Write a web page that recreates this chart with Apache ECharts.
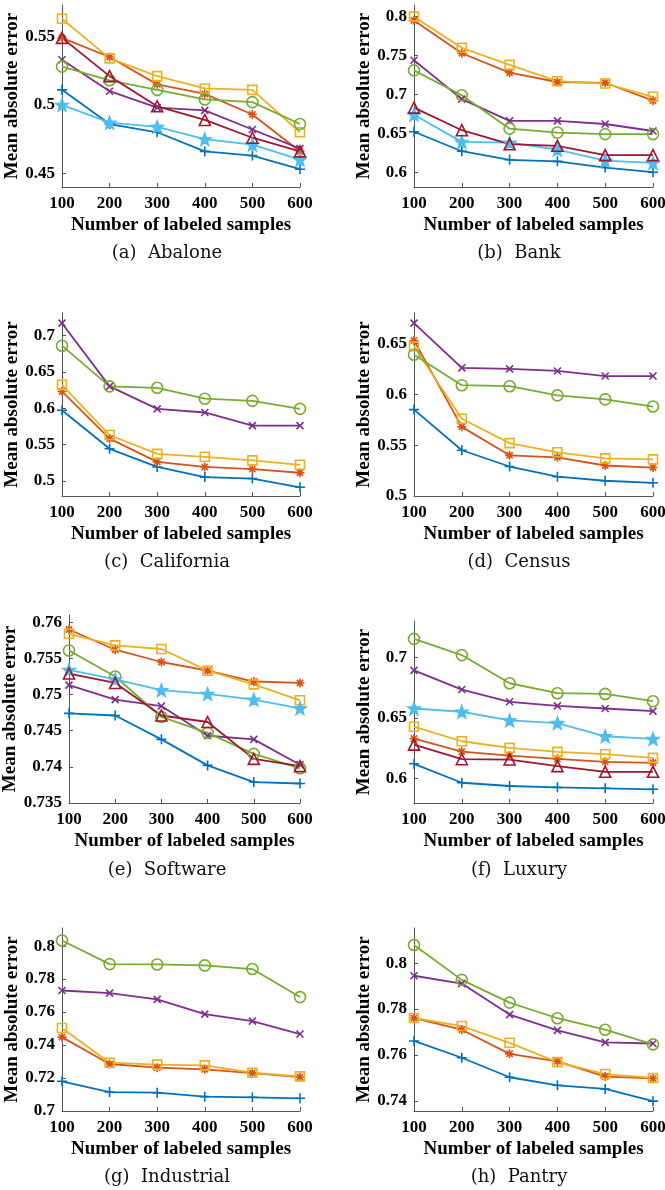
<!DOCTYPE html>
<html>
<head>
<meta charset="utf-8">
<title>Mean absolute error vs. number of labeled samples</title>
<script src="https://cdn.jsdelivr.net/npm/echarts@6/dist/echarts.min.js"></script>
<style>
  html, body { margin: 0; padding: 0; background: #fff; }
  #chart { width: 665px; height: 1190px; }
</style>
</head>
<body>
<div id="chart"></div>
<script>
// x values, same for every panel
const samples = [100, 200, 300, 400, 500, 600];

// rows in plot order: + blue, * orange, square yellow, x purple, o green, star light blue, triangle dark red
// null = method not drawn in that panel
const abalone = [
  [0.511, 0.486, 0.480, 0.466, 0.463, 0.453],
  [0.549, 0.535, 0.515, 0.508, 0.493, 0.466],
  [0.563, 0.534, 0.521, 0.512, 0.511, 0.480],
  [0.533, 0.510, 0.498, 0.496, 0.482, 0.468],
  [0.528, 0.518, 0.511, 0.504, 0.502, 0.486],
  [0.500, 0.487, 0.484, 0.475, 0.471, 0.460],
  [0.549, 0.521, 0.499, 0.489, 0.476, 0.466]
];
const bank = [
  [0.652, 0.627, 0.616, 0.614, 0.606, 0.600],
  [0.795, 0.753, 0.728, 0.716, 0.715, 0.692],
  [0.800, 0.760, 0.738, 0.717, 0.714, 0.697],
  [0.744, 0.694, 0.666, 0.666, 0.662, 0.653],
  [0.731, 0.699, 0.656, 0.651, 0.649, 0.649],
  [0.674, 0.639, 0.638, 0.629, 0.615, 0.612],
  [0.683, 0.654, 0.636, 0.634, 0.622, 0.622]
];
const california = [
  [0.597, 0.544, 0.519, 0.505, 0.503, 0.491],
  [0.623, 0.558, 0.526, 0.519, 0.516, 0.511],
  [0.632, 0.563, 0.537, 0.533, 0.528, 0.522],
  [0.717, 0.630, 0.599, 0.594, 0.576, 0.576],
  [0.686, 0.630, 0.628, 0.613, 0.610, 0.599],
  null,
  null
];
const census = [
  [0.585, 0.545, 0.529, 0.519, 0.515, 0.513],
  [0.653, 0.568, 0.540, 0.538, 0.530, 0.528],
  [0.647, 0.576, 0.552, 0.543, 0.537, 0.536],
  [0.670, 0.626, 0.625, 0.623, 0.618, 0.618],
  [0.639, 0.609, 0.608, 0.599, 0.595, 0.588],
  null,
  null
];
const software = [
  [0.7474, 0.7471, 0.7438, 0.7402, 0.7379, 0.7377],
  [0.7590, 0.7562, 0.7545, 0.7533, 0.7518, 0.7516],
  [0.7584, 0.7568, 0.7563, 0.7533, 0.7514, 0.7492],
  [0.7513, 0.7493, 0.7484, 0.7443, 0.7438, 0.7403],
  [0.7561, 0.7525, 0.7469, 0.7447, 0.7418, 0.7398],
  [0.7534, 0.7521, 0.7506, 0.7501, 0.7493, 0.7481],
  [0.7529, 0.7516, 0.7471, 0.7462, 0.7411, 0.7401]
];
const luxury = [
  [0.6123, 0.5967, 0.5940, 0.5929, 0.5921, 0.5913],
  [0.6331, 0.6224, 0.6191, 0.6164, 0.6139, 0.6131],
  [0.6429, 0.6309, 0.6254, 0.6221, 0.6202, 0.6172],
  [0.6893, 0.6735, 0.6634, 0.6601, 0.6579, 0.6557],
  [0.7153, 0.7019, 0.6787, 0.6705, 0.6699, 0.6639],
  [0.6579, 0.6552, 0.6481, 0.6459, 0.6350, 0.6328],
  [0.6281, 0.6161, 0.6158, 0.6104, 0.6057, 0.6057]
];
const industrial = [
  [0.7180, 0.7115, 0.7111, 0.7087, 0.7083, 0.7077],
  [0.7448, 0.7285, 0.7263, 0.7253, 0.7230, 0.7206],
  [0.7503, 0.7293, 0.7281, 0.7277, 0.7232, 0.7210],
  [0.7731, 0.7715, 0.7677, 0.7588, 0.7545, 0.7467],
  [0.8034, 0.7891, 0.7889, 0.7883, 0.7861, 0.7691],
  null,
  null
];
const pantry = [
  [0.7661, 0.7588, 0.7503, 0.7468, 0.7452, 0.7399],
  [0.7761, 0.7710, 0.7605, 0.7572, 0.7506, 0.7498],
  [0.7761, 0.7726, 0.7653, 0.7569, 0.7517, 0.7500],
  [0.7945, 0.7911, 0.7776, 0.7707, 0.7655, 0.7650],
  [0.8079, 0.7927, 0.7828, 0.7760, 0.7710, 0.7646],
  null,
  null
];

// y tick labels per panel
const abaloneTicks = [0.45, 0.5, 0.55];
const bankTicks = [0.6, 0.65, 0.7, 0.75, 0.8];
const californiaTicks = [0.5, 0.55, 0.6, 0.65, 0.7];
const censusTicks = [0.5, 0.55, 0.6, 0.65];
const softwareTicks = [0.735, 0.74, 0.745, 0.75, 0.755, 0.76];
const luxuryTicks = [0.6, 0.65, 0.7];
const industrialTicks = [0.7, 0.72, 0.74, 0.76, 0.78, 0.8];
const pantryTicks = [0.74, 0.76, 0.78, 0.8];

const captions = ['(a)  Abalone', '(b)  Bank', '(c)  California', '(d)  Census',
                  '(e)  Software', '(f)  Luxury', '(g)  Industrial', '(h)  Pantry'];

// MATLAB default line colours
const colors = ['#0072BD', '#D95319', '#EDB120', '#7E2F8E', '#77AC30', '#4DBEEE', '#A2142F'];

function starPath() {
  let d = '';
  for (let i = 0; i < 10; i++) {
    const r = i % 2 ? 2.1 : 5;
    const a = -Math.PI / 2 + i * Math.PI / 5;
    d += (i ? 'L' : 'M') + (5 + r * Math.cos(a)).toFixed(2) + ',' + (5 + r * Math.sin(a)).toFixed(2);
  }
  return 'path://' + d + 'Z';
}

const markers = [
  {symbol: 'path://M0,5L10,5M5,0L5,10', size: 10, filled: false},
  {symbol: 'path://M5,0L5,10M0,5L10,5M1.5,1.5L8.5,8.5M8.5,1.5L1.5,8.5', size: 9, filled: false},
  {symbol: 'rect', size: 9, filled: false},
  {symbol: 'path://M0,0L10,10M10,0L0,10', size: 7, filled: false},
  {symbol: 'circle', size: 11, filled: false},
  {symbol: starPath(), size: 12, filled: true},
  {symbol: 'triangle', size: 11, filled: false}
];

// panel layout (px)
const panels = [
  {data: abalone, ticks: abaloneTicks, min: 0.44, max: 0.573, left: 62, top: 5, w: 238, h: 182, cx: 167, cy: 253, gap: 37},
  {data: bank, ticks: bankTicks, min: 0.581, max: 0.815, left: 414, top: 5, w: 239, h: 182, cx: 519, cy: 253, gap: 37},
  {data: california, ticks: californiaTicks, min: 0.479, max: 0.731, left: 62, top: 313, w: 238, h: 183, cx: 167, cy: 562, gap: 37},
  {data: census, ticks: censusTicks, min: 0.5, max: 0.68, left: 414, top: 313, w: 239, h: 183, cx: 519, cy: 562, gap: 37},
  {data: software, ticks: softwareTicks, min: 0.735, max: 0.761, left: 69, top: 615, w: 231, h: 188, cx: 167, cy: 870, gap: 45},
  {data: luxury, ticks: luxuryTicks, min: 0.58, max: 0.73, left: 414, top: 621, w: 239, h: 182, cx: 519, cy: 870, gap: 37},
  {data: industrial, ticks: industrialTicks, min: 0.7, max: 0.811, left: 62, top: 928, w: 238, h: 183, cx: 167, cy: 1177, gap: 38},
  {data: pantry, ticks: pantryTicks, min: 0.7356, max: 0.8153, left: 414, top: 928, w: 239, h: 183, cx: 519, cy: 1177, gap: 38}
];

const axisFont = {fontFamily: 'Liberation Serif', fontWeight: 'bold', fontSize: 17, color: '#000'};
const nameFont = {fontFamily: 'Liberation Serif', fontWeight: 'bold', fontSize: 19, color: '#000'};
const axisLine = {show: true, lineStyle: {color: '#555', width: 1}};

let grids = [], xAxes = [], yAxes = [], series = [], graphics = [];

panels.forEach((p, i) => {
  grids.push({left: p.left, top: p.top, width: p.w, height: p.h, containLabel: false, outerBoundsMode: 'none'});
  xAxes.push({
    gridIndex: i, type: 'value', min: 100, max: 600, interval: 100,
    name: 'Number of labeled samples', nameLocation: 'middle', nameGap: 29, nameTextStyle: nameFont,
    axisLine: axisLine, axisTick: {inside: true, length: 4, lineStyle: {color: '#555'}},
    axisLabel: Object.assign({margin: 8}, axisFont), splitLine: {show: false}
  });
  yAxes.push({
    gridIndex: i, type: 'value', min: p.min, max: p.max,
    name: 'Mean absolute error', nameLocation: 'middle', nameGap: p.gap, nameTextStyle: nameFont,
    axisLine: axisLine,
    axisTick: {inside: true, length: 4, lineStyle: {color: '#555'}, customValues: p.ticks},
    axisLabel: Object.assign({margin: 7, customValues: p.ticks}, axisFont),
    splitLine: {show: false}
  });
  p.data.forEach((row, j) => {
    if (!row) return;
    const m = markers[j];
    series.push({
      type: 'line', xAxisIndex: i, yAxisIndex: i,
      data: samples.map((x, k) => [x, row[k]]),
      symbol: m.symbol, symbolSize: m.size, showSymbol: true,
      lineStyle: {color: colors[j], width: 1.8},
      itemStyle: {color: m.filled ? colors[j] : 'rgba(0,0,0,0)', borderColor: colors[j], borderWidth: 1.6},
      emphasis: {disabled: true},
      silent: true
    });
  });
  graphics.push({
    type: 'text', x: p.cx, y: p.cy,
    style: {text: captions[i], font: '18px "DejaVu Serif"', fill: '#111', align: 'center', verticalAlign: 'middle'}
  });
});

const chart = echarts.init(document.getElementById('chart'));
chart.setOption({
  animation: false,
  backgroundColor: '#fff',
  grid: grids,
  xAxis: xAxes,
  yAxis: yAxes,
  series: series,
  graphic: graphics
});
</script>
</body>
</html>
